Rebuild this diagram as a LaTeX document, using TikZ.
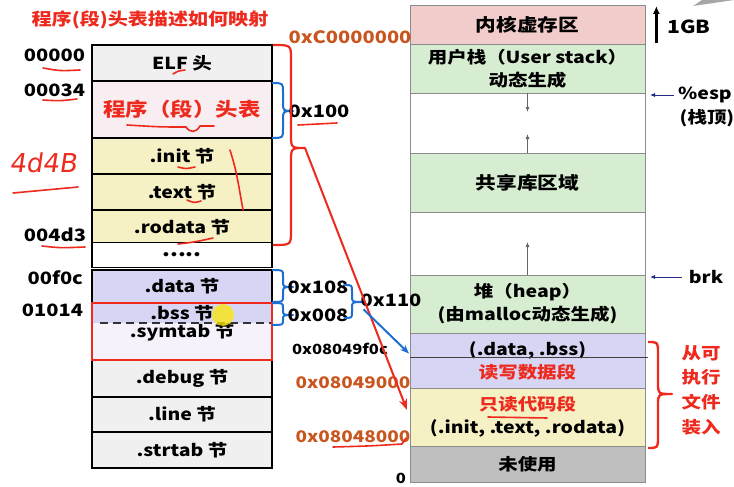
\documentclass[tikz,border=0pt]{standalone}
\usepackage{fontspec}
\setmainfont{Noto Sans CJK SC}[FakeStretch=1.18]
\newfontfamily\scribble{DejaVu Sans}[FakeSlant=0.15]
\usetikzlibrary{arrows.meta,calc}

\definecolor{kpink}{HTML}{F2CBCB}
\definecolor{lgreen}{HTML}{D7EDD1}
\definecolor{lav}{HTML}{D6D6F4}
\definecolor{lyel}{HTML}{F5F1C4}
\definecolor{ugray}{HTML}{BFBFBF}
\definecolor{egray}{HTML}{F0F0F0}
\definecolor{ppink}{HTML}{F8EEF1}
\definecolor{slav}{HTML}{F6F1FA}
\definecolor{hred}{HTML}{EE2A1E}
\definecolor{addr}{HTML}{C9561F}
\definecolor{bbrace}{HTML}{1E6FD2}
\definecolor{navy}{HTML}{1F2A80}

% vertical curly brace opening to the right:
% #1 start x, #2 spine x, #3 tip x, #4 top y, #5 bottom y, #6 tip y, #7 corner size
\newcommand\sidebrace[7]{%
 (#1,#4) .. controls (#2,#4) .. (#2,{#4+#7})
 -- (#2,{#6-#7}) .. controls (#2,#6) .. (#3,#6)
 .. controls (#2,#6) .. (#2,{#6+#7})
 -- (#2,{#5-#7}) .. controls (#2,#5) .. (#1,#5)}

\begin{document}
\begin{tikzpicture}[x=1pt,y=-1pt,
  base/.style={inner sep=0pt, outer sep=0pt, font=\bfseries\fontsize{16.5}{19}\selectfont},
  lcell/.style={base, draw=black, line width=1.6pt, minimum width=180pt},
  rcell/.style={base, draw=black!45, line width=0.8pt, minimum width=235pt, align=center,
                font=\bfseries\fontsize{16.5}{23}\selectfont},
  addrl/.style={base, font=\bfseries\fontsize{17}{19}\selectfont, anchor=east},
  hexl/.style={base, font=\bfseries\fontsize{17}{19}\selectfont},
  hand/.style={draw=hred, line width=1.6pt, line cap=round, line join=round},
  bluebrace/.style={draw=bbrace, line width=2pt, line join=round},
  redbrace/.style={draw=hred, line width=2.2pt, line join=round},
  ptr/.style={draw=navy, line width=0.8pt, -{Latex[length=5pt,width=4pt]}},
  growth/.style={draw=black!60, line width=0.8pt, -{Latex[length=5pt,width=4pt]}},
]
\useasboundingbox (0,0) rectangle (734,487);
\fill[white] (0,0) rectangle (734,487);

% title
\node[base, text=hred, font=\bfseries\fontsize{17}{19}\selectfont] (title) at (150,20) {程序(段)头表描述如何映射};

% ---------- process address space (right) ----------
\node[rcell, fill=kpink, minimum height=39, font=\bfseries\fontsize{17.5}{23}\selectfont] (kernel) at (527.5,24.5) {内核虚存区};
\node[rcell, fill=lgreen, minimum height=49] (ustack) at (527.5,68.5) {用户栈（User stack）\\动态生成};
\node[rcell, fill=white, minimum height=60] (gapa) at (527.5,123) {};
\node[rcell, fill=lgreen, minimum height=59, font=\bfseries\fontsize{17.5}{23}\selectfont] (shlib) at (527.5,182.5) {共享库区域};
\node[rcell, fill=white, minimum height=63] (gapb) at (527.5,243.5) {};
\node[rcell, fill=lgreen, minimum height=58] (heap) at (527.5,304) {堆（heap）\\(由malloc动态生成)};
\node[rcell, fill=lav, minimum height=55] (rw) at (527.5,360.5) {(.data, .bss)\\\textcolor{hred}{读写数据段}};
\node[rcell, fill=lyel, minimum height=58] (ro) at (527.5,417) {\textcolor{hred}{只读代码段}\\(.init, .text, .rodata)};
\node[rcell, fill=ugray, minimum height=36] (unused) at (527.5,464) {未使用};

\draw[black!75, line width=0.9pt] ($(rw.west)+(0,-3.5)$) -- ($(rw.east)+(3,-3.5)$);

% stack / heap growth
\draw[growth] (gapa.north) -- ++(0,19);
\draw[growth] (gapa.south) -- ++(0,-19);
\draw[growth] (gapb.south) -- ++(0,-33);

% ---------- ELF file layout (left) ----------
\node[lcell, fill=egray, minimum height=36] (elf) at (182,63) {ELF 头};
\node[lcell, fill=ppink, minimum height=57, text=hred, font=\bfseries\fontsize{19}{22}\selectfont] (pht) at (182,109.5) {程序（段）头表};
\node[lcell, fill=lyel, minimum height=36] (init) at (182,156) {.init 节};
\node[lcell, fill=lyel, minimum height=36] (textsec) at (182,192) {.text 节};
\node[lcell, fill=lyel, minimum height=35] (rodata) at (182,227.5) {.rodata 节};
\node[lcell, fill=white, minimum height=25, font=\bfseries\fontsize{19}{19}\selectfont] (more) at (182,255) {.....};
\node[lcell, fill=lav, minimum height=33] (data) at (182,286.5) {.data 节};
\node[lcell, draw=none, fill=lav, minimum height=20] (bss) at (182,313) {.bss 节};
\node[lcell, draw=none, fill=slav, minimum height=37] (symtab) at (182,341.5) {};
\node[base] (symtabname) at (182,332) {.symtab 节};
\node[lcell, fill=egray, minimum height=37] (debug) at (182,378.5) {.debug 节};
\node[lcell, fill=egray, minimum height=35] (line) at (182,414.5) {.line 节};
\node[lcell, fill=egray, minimum height=36] (strtab) at (182,450) {.strtab 节};

\draw[black!80, line width=1.3pt, dash pattern=on 8pt off 5pt] ($(bss.south west)+(8,0)$) -- (bss.south east);
\draw[hred, line width=2.2pt] (bss.north west) rectangle (symtab.south east);

% file offsets
\node[addrl] (a0) at (85,55) {00000};
\node[addrl] (a34) at (85,90) {00034};
\node[addrl] (a4d3) at (86,235) {004d3};
\node[addrl] (af0c) at (83,278) {00f0c};
\node[addrl] (a1014) at (83,310) {01014};

% sizes
\draw[bluebrace] \sidebrace{272}{283}{293}{83}{138}{111}{9};
\draw[bluebrace] \sidebrace{272}{283}{293}{270}{302}{287}{6};
\draw[bluebrace] \sidebrace{272}{283}{293}{303}{325}{315}{5};
\node[hexl] (s100) at (319,111) {0x100};
\node[hexl] (s108) at (318,287) {0x108};
\node[hexl] (s008) at (318,315) {0x008};
\draw[bluebrace] \sidebrace{344}{352}{363}{285}{318}{302}{6};
\node[hexl] (s110) at (391,300) {0x110};

% virtual addresses
\node[hexl, text=addr] (vc0) at (350,37) {0xC0000000};
\node[base, font=\bfseries\fontsize{14}{16}\selectfont] (v9f0c) at (340,349) {0x08049f0c};
\node[hexl, text=addr, font=\bfseries\fontsize{16}{18}\selectfont] (v9000) at (353,383) {0x08049000};
\node[hexl, text=addr, font=\bfseries\fontsize{16}{18}\selectfont] (v8000) at (353,437) {0x08048000};
\node[base, font=\bfseries\fontsize{14}{16}\selectfont] (vzero) at (401,478) {0};

% mapping of the read-only part
\draw[redbrace] \sidebrace{273}{291}{305}{45}{245}{148}{14};
\coordinate (rbtip) at (305,148);
\draw[hred, line width=2pt, -{Stealth[length=11pt,width=8pt]}] (rbtip) -- ($(ro.west)+(-3,-7)$);

% mapping of the data part
\draw[bbrace, line width=2pt, -{Stealth[length=9pt,width=7pt]}] ($(s110.south west)+(3,3)$) -- ($(rw.west)+(-1,-7)$);

% right-hand notes
\node[base, font=\bfseries\fontsize{18}{20}\selectfont] (gb) at (689,27) {1GB};
\draw[line width=2.5pt, -{Latex[length=8pt,width=7pt]}] ($(gb.west)+(-11,16)$) -- ($(gb.west)+(-11,-21)$);
\node[base] (esp) at (705,95) {\%esp};
\node[base] (espnote) at (707,118) {(栈顶)};
\coordinate (espat) at (650,95);
\draw[ptr] ($(esp.west)+(-4,0)$) -- (espat);
\node[base] (brk) at (706,277) {brk};
\coordinate (brkat) at (650,277);
\draw[ptr] ($(brk.west)+(-7,0)$) -- (brkat);
\draw[redbrace, line width=2.4pt] \sidebrace{648}{658}{672}{342}{448}{394}{11};
\node[base, text=hred, align=center, font=\bfseries\fontsize{16.5}{24.6}\selectfont] (loadnote) at (701,390) {从可\\执行\\文件\\装入};
\fill[gray!70] (693,6) -- (702,0) -- (734,0) -- cycle;

% pen marks
\draw[hand] (43,68) .. controls (60,71) .. (80,70);
\draw[hand] (43,100) .. controls (60,101) .. (77,99);
\draw[hand] (173,74) .. controls (178,71) .. (185,70);
\draw[hand] (127,125) .. controls (160,127) .. (186,127) .. controls (190,133) and (196,133) .. (200,126) -- (214,126);
\draw[hand] (178,167) .. controls (186,169) .. (195,167);
\draw[hand] (187,200) .. controls (194,203) .. (201,201);
\draw[hand] (178,244) .. controls (195,242) .. (213,238);
\draw[hand] (230,150) .. controls (236,170) .. (243,210);
\draw[hand] (42,246) .. controls (60,248) .. (85,247);
\draw[hand] (298,125) .. controls (318,124) .. (337,123);
\draw[hand] (488,417) -- (547,418);
\draw[hand] (333,447) .. controls (370,446) .. (402,444) -- (406,438);
\node[base, text=hred, font=\scribble\fontsize{26}{26}\selectfont] (scrib) at (43,163) {4d4B};
\draw[hand] (13,193) .. controls (45,190) .. (78,187);

% pointer highlight
\fill[yellow!90!orange, opacity=0.75] (223,315) circle (11pt);
\end{tikzpicture}
\end{document}
